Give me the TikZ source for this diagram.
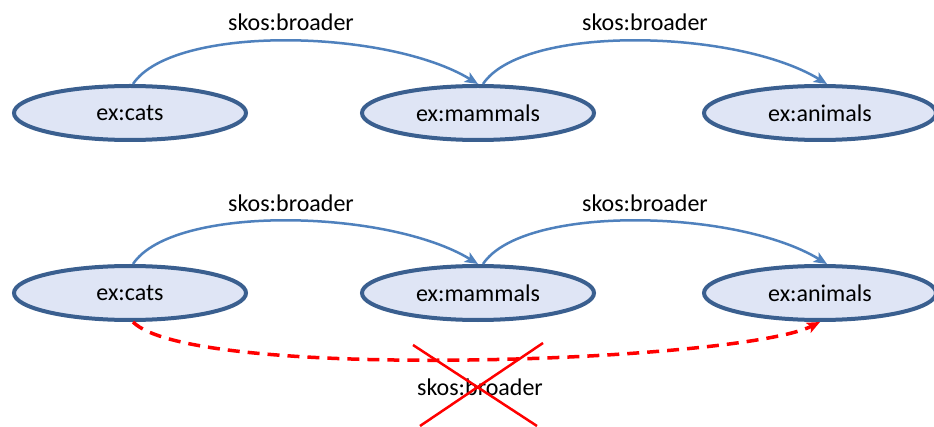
\documentclass[tikz,border=0pt]{standalone}
\usepackage{fontspec}
\setmainfont{Carlito}
\usepackage{xcolor}
\usepackage{tikz}
\usetikzlibrary{shapes,arrows.meta,positioning}

\definecolor{conceptline}{HTML}{3A5F8F}
\definecolor{conceptfill}{HTML}{DFE5F5}
\definecolor{linkblue}{HTML}{4F81BD}

\tikzset{
    concept/.style={
        ellipse,
        draw=conceptline,
        fill=conceptfill,
        line width=4pt,
        minimum width=232pt,
        minimum height=54pt,
        inner sep=0pt,
        font=\fontsize{24}{28}\selectfont
    },
    broader/.style={
        draw=linkblue,
        line width=2.5pt,
        -{Stealth[length=13pt,width=11pt,inset=3pt]}
    },
    wrongbroader/.style={
        draw=red,
        line width=3.5pt,
        dash pattern=on 12pt off 8pt,
        -{Stealth[length=13pt,width=11pt,inset=3pt]}
    },
    linklabel/.style={
        font=\fontsize{24}{28}\selectfont,
        inner sep=0pt
    }
}

\begin{document}
\begin{tikzpicture}[x=1pt,y=1pt]
                \fill[white] (0,0) rectangle (934,426);
                \useasboundingbox (0,0) rectangle (934,426);

                % first chain
                \node[concept] (cats1) at (130,313) {ex:cats};
                \node[concept] (mammals1) at (478,313) {ex:mammals};
                \node[concept] (animals1) at (820,313) {ex:animals};

                \draw[broader] ([xshift=3pt]cats1.north) .. controls +(40,60) and +(-90,55) .. (mammals1.north);
                \draw[broader] ([xshift=5pt]mammals1.north) .. controls +(40,60) and +(-90,55) .. ([xshift=7pt]animals1.north);

                \node[linklabel] (lab1) at (291,404) {skos:broader};
                \node[linklabel] (lab2) at (645,404) {skos:broader};

                % second chain, with the transitive link crossed out
                \node[concept] (cats2) at (130,133) {ex:cats};
                \node[concept] (mammals2) at (478,133) {ex:mammals};
                \node[concept] (animals2) at (820,133) {ex:animals};

                \draw[broader] ([xshift=3pt]cats2.north) .. controls +(40,60) and +(-90,55) .. (mammals2.north);
                \draw[broader] ([xshift=5pt]mammals2.north) .. controls +(40,60) and +(-90,55) .. ([xshift=7pt]animals2.north);

                \node[linklabel] (lab3) at (291,223) {skos:broader};
                \node[linklabel] (lab4) at (645,223) {skos:broader};

                \draw[wrongbroader] ([xshift=3pt]cats2.south) .. controls +(60,-60) and +(-80,-40) .. (animals2.south);

                \node[linklabel] (lab5) at (480,39) {skos:broader};

                \draw[
                    red,
                    line width=2.5pt
                ] (413,81) -- (537,0) (543,83) -- (420,0);
\end{tikzpicture}
\end{document}
